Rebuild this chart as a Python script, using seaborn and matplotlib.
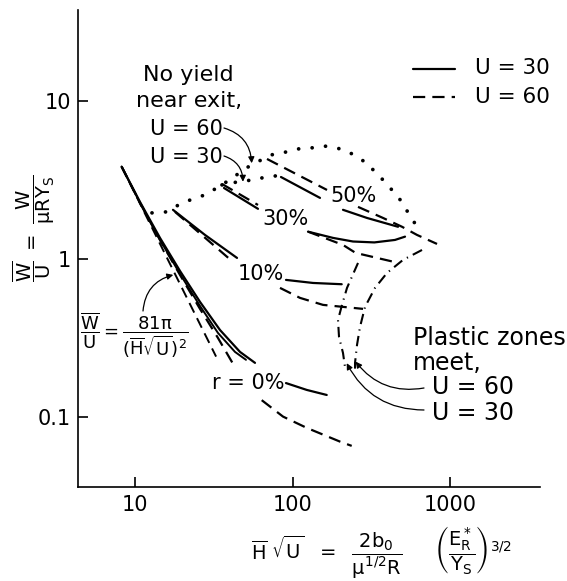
import numpy as np
import pandas as pd
import matplotlib
matplotlib.use("Agg")
import matplotlib.pyplot as plt
from matplotlib.lines import Line2D
from matplotlib.ticker import NullLocator
import seaborn as sns

# ---------------- data ----------------
# asymptote  W/U = 81 pi / (H sqrt U)^2  (end points)
asym_x = [8.23, 32.7]
asym_y = [3.85, 0.24]

# r = 0 %
r0_u30_x = [8.23, 10.76, 14.41, 19.30, 25.85, 34.62, 46.38, 57.73]
r0_u30_y = [3.85, 2.30, 1.36, 0.839, 0.534, 0.354, 0.257, 0.219]
r0_u30_tail_x = [90.81, 122.9, 164.6]
r0_u30_tail_y = [0.163, 0.1475, 0.137]
r0_u60_x = [8.23, 10.76, 14.41, 19.30, 25.85, 33.62, 41.87]
r0_u60_y = [3.85, 2.27, 1.32, 0.792, 0.482, 0.315, 0.216]
r0_u60_tail_x = [63.68, 86.90, 122.9, 199.8, 237.1]
r0_u60_tail_y = [0.127, 0.0999, 0.0847, 0.0693, 0.0651]
# second solid line inside the steep bundle
bundle_x = [8.23, 10.76, 14.41, 19.30, 25.85, 33.62, 43.11, 50.6]
bundle_y = [3.85, 2.27, 1.32, 0.803, 0.503, 0.339, 0.257, 0.229]

# r = 10 %
r10_u30_x = [17.42, 27.81, 44.39]
r10_u30_y = [2.05, 1.42, 1.015]
r10_u30_tail_x = [90.81, 134.7, 204.9]
r10_u30_tail_y = [0.736, 0.704, 0.691]
r10_u60_x = [17.94, 41.87]
r10_u60_y = [1.99, 0.957]
r10_u60_tail_x = [83.2, 111.4, 155.9, 279.7]
r10_u60_tail_y = [0.655, 0.566, 0.511, 0.482]

# r = 30 %
r30_u30_x = [36.70, 60.32]
r30_u30_y = [2.82, 2.08]
r30_u30_tail_x = [125.2, 180.4, 241.7, 330.0, 446.3, 516.7]
r30_u30_tail_y = [1.49, 1.36, 1.29, 1.273, 1.32, 1.385]
r30_u60_x = [35.65, 60.32]
r30_u60_y = [2.99, 2.20]
r30_u60_tail_x = [125.2, 208.8, 251.1, 433.6]
r30_u60_tail_y = [1.49, 1.227, 1.092, 0.961]

# r = 50 %
r50_u30_x = [84.40, 149.2]
r50_u30_y = [3.31, 2.44]
r50_u30_tail_x = [208.8, 296.5, 466.5]
r50_u30_tail_y = [2.05, 1.82, 1.60]
r50_u60_x = [68.79, 165.3]
r50_u60_y = [4.31, 2.74]
r50_u60_tail_x = [260.0, 374.7, 494.5, 615.7, 824.6]
r50_u60_tail_y = [2.14, 1.82, 1.60, 1.42, 1.245]

# no yield near exit (dotted)
ny_u60_x = [12.82, 15.96, 19.88, 27.81, 35.65, 43.11, 52.12, 64.90, 76.21, 90.81,
            108.2, 130.9, 158.2, 191.2, 228.0, 260.0, 296.5, 328.5, 369.3, 415.0,
            459.7, 494.5, 531.9, 580.7, 624.7]
ny_u60_y = [1.96, 1.99, 2.27, 2.55, 2.95, 3.36, 3.83, 4.31, 4.64, 4.77,
            4.99, 5.06, 5.21, 5.06, 4.77, 4.37, 4.07, 3.62, 3.22, 2.82,
            2.55, 2.27, 2.02, 1.77, 1.53]
ny_u30_x = [35.65, 48.45, 57.73, 66.82, 77.32, 89.48]
ny_u30_y = [2.95, 3.13, 3.17, 3.31, 3.36, 3.41]

# plastic zones meet (dash-dot)
pz_u60_x = [662.2, 501.8, 397.2, 333.3, 288.0, 267.7, 256.3, 248.9, 248.9]
pz_u60_y = [1.14, 0.986, 0.815, 0.655, 0.496, 0.370, 0.285, 0.219, 0.198]
pz_u30_x = [260.0, 221.4, 205.8, 194.1, 197.0, 208.8, 215.0]
pz_u30_y = [0.943, 0.655, 0.511, 0.410, 0.320, 0.253, 0.206]

x_ticks = [10, 100, 1000]
x_ticklabels = ["10", "100", "1000"]
y_ticks = [0.1, 1, 10]
y_ticklabels = ["0.1", "1", "10"]

# ---------------- styling ----------------
sns.set_style("ticks")
plt.rcParams["font.family"] = ["DejaVu Sans"]
plt.rcParams["mathtext.default"] = "regular"
plt.rcParams["mathtext.fontset"] = "dejavusans"
for k in ["text.color", "axes.labelcolor", "xtick.color", "ytick.color",
          "axes.edgecolor"]:
    plt.rcParams[k] = "black"

W, H = 567, 581
fig = plt.figure(figsize=(W / 100, H / 100), dpi=100)
ax = fig.add_axes([78 / W, 1 - 487 / H, 461.6 / W, 477 / H])
ax.set_xscale("log")
ax.set_yscale("log")

SOLID = "-"
DASH = (0, (5.5, 3.2))
DOT = (0, (0.01, 3.6))
DASHDOT = (0, (5, 2.6, 0.6, 2.6))
LW = 1.6


def draw(x, y, ls, lw=LW, **kw):
    df = pd.DataFrame({"x": x, "y": y})
    sns.lineplot(data=df, x="x", y="y", sort=False, estimator=None, color="black",
                 linestyle=ls, linewidth=lw, ax=ax, **kw)


draw(asym_x, asym_y, DASH, lw=1.4)
draw(bundle_x, bundle_y, SOLID, lw=1.4)
draw(r0_u30_x, r0_u30_y, SOLID)
draw(r0_u30_tail_x, r0_u30_tail_y, SOLID)
draw(r0_u60_x, r0_u60_y, DASH)
draw(r0_u60_tail_x, r0_u60_tail_y, DASH)
draw(r10_u30_x, r10_u30_y, SOLID)
draw(r10_u30_tail_x, r10_u30_tail_y, SOLID)
draw(r10_u60_x, r10_u60_y, DASH)
draw(r10_u60_tail_x, r10_u60_tail_y, DASH)
draw(r30_u30_x, r30_u30_y, SOLID)
draw(r30_u30_tail_x, r30_u30_tail_y, SOLID)
draw(r30_u60_x, r30_u60_y, DASH)
draw(r30_u60_tail_x, r30_u60_tail_y, DASH)
draw(r50_u30_x, r50_u30_y, SOLID)
draw(r50_u30_tail_x, r50_u30_tail_y, SOLID)
draw(r50_u60_x, r50_u60_y, DASH)
draw(r50_u60_tail_x, r50_u60_tail_y, DASH)
draw(ny_u60_x, ny_u60_y, DOT, lw=2.7, dash_capstyle="round")
draw(ny_u30_x, ny_u30_y, DOT, lw=2.7, dash_capstyle="round")
draw(pz_u60_x, pz_u60_y, DASHDOT, lw=1.5)
draw(pz_u30_x, pz_u30_y, DASHDOT, lw=1.5)

ax.set_xlim(4.35, 3690)
ax.set_ylim(0.0357, 38.0)
ax.set_xlabel("")
ax.set_ylabel("")
ax.set_xticks(x_ticks)
ax.set_xticklabels(x_ticklabels)
ax.set_yticks(y_ticks)
ax.set_yticklabels(y_ticklabels)
ax.xaxis.set_minor_locator(NullLocator())
ax.yaxis.set_minor_locator(NullLocator())
ax.tick_params(axis="both", direction="in", length=7.5, width=1.2, labelsize=15,
               colors="black")
ax.tick_params(axis="x", pad=6)
ax.tick_params(axis="y", pad=5)
for s in ["top", "right"]:
    ax.spines[s].set_visible(False)
for s in ["left", "bottom"]:
    ax.spines[s].set_linewidth(1.2)
    ax.spines[s].set_color("black")


def fp(px, py):
    return (px, H - py)


FS = 16
# curve labels
ax.text(354, H - 196, "50%", transform=None, fontsize=15, ha="center", va="center")
ax.text(286, H - 219, "30%", transform=None, fontsize=15, ha="center", va="center")
ax.text(261, H - 274, "10%", transform=None, fontsize=15, ha="center", va="center")
ax.text(248, H - 383, "r = 0%", transform=None, fontsize=15, ha="center", va="center")

# No-yield annotation
fig.text(188 / W, 1 - 75 / H, "No yield", fontsize=FS, ha="center", va="center")
fig.text(189 / W, 1 - 101 / H, "near exit,", fontsize=FS, ha="center", va="center")
fig.text(150 / W, 1 - 129 / H, "U = 60", fontsize=15, ha="left", va="center")
fig.text(150 / W, 1 - 157 / H, "U = 30", fontsize=15, ha="left", va="center")
arr = dict(arrowstyle="-|>", color="black", lw=0.9, mutation_scale=9, shrinkA=0, shrinkB=0)
ax.annotate("", xy=(55.0, 4.05), xycoords="data", xytext=fp(224, 128),
            textcoords="figure pixels",
            arrowprops=dict(arr, connectionstyle="arc3,rad=-0.35"))
ax.annotate("", xy=(48.4, 3.09), xycoords="data", xytext=fp(224, 156),
            textcoords="figure pixels",
            arrowprops=dict(arr, connectionstyle="arc3,rad=-0.35"))

# formula annotation
fig.text(134 / W, 1 - 335 / H,
         r"$\dfrac{\overline{W}}{U} = \dfrac{81\pi}{(\overline{H}\sqrt{U})^2}$",
         fontsize=13, ha="center", va="center")
ax.annotate("", xy=(17.5, 0.792), xycoords="data", xytext=fp(143, 311),
            textcoords="figure pixels",
            arrowprops=dict(arr, connectionstyle="arc3,rad=-0.35"))

# plastic zones annotation
fig.text(413 / W, 1 - 338 / H, "Plastic zones", fontsize=17, ha="left", va="center")
fig.text(413 / W, 1 - 363 / H, "meet,", fontsize=17, ha="left", va="center")
fig.text(432 / W, 1 - 387 / H, "U = 60", fontsize=17, ha="left", va="center")
fig.text(432 / W, 1 - 413 / H, "U = 30", fontsize=17, ha="left", va="center")
ax.annotate("", xy=(251.1, 0.223), xycoords="data", xytext=fp(424, 388),
            textcoords="figure pixels",
            arrowprops=dict(arr, connectionstyle="arc3,rad=-0.3"))
ax.annotate("", xy=(220.4, 0.218), xycoords="data", xytext=fp(424, 410),
            textcoords="figure pixels",
            arrowprops=dict(arr, connectionstyle="arc3,rad=-0.3"))

# legend
fig.add_artist(Line2D([413 / W, 455 / W], [1 - 69 / H] * 2, color="black", lw=LW))
fig.add_artist(Line2D([413 / W, 455 / W], [1 - 97 / H] * 2, color="black", lw=LW,
                      linestyle=DASH))
fig.text(475 / W, 1 - 68 / H, "U = 30", fontsize=15.5, ha="left", va="center")
fig.text(475 / W, 1 - 97 / H, "U = 60", fontsize=15.5, ha="left", va="center")

# axis labels
fig.text(34 / W, 1 - 228 / H,
         r"$\dfrac{\overline{W}}{U}\ =\ \dfrac{W}{\mu R Y_S}$",
         fontsize=14, rotation=90, ha="center", va="center")
fig.text(382 / W, 1 - 553 / H,
         r"$\overline{H}\ \sqrt{U}\ \ =\ \ \dfrac{2b_0}{\mu^{1/2}R}\ \ \ \ \ \left(\dfrac{E_R^*}{Y_S}\right)^{3/2}$",
         fontsize=14, ha="center", va="center")

fig.savefig("out.png", dpi=100)
